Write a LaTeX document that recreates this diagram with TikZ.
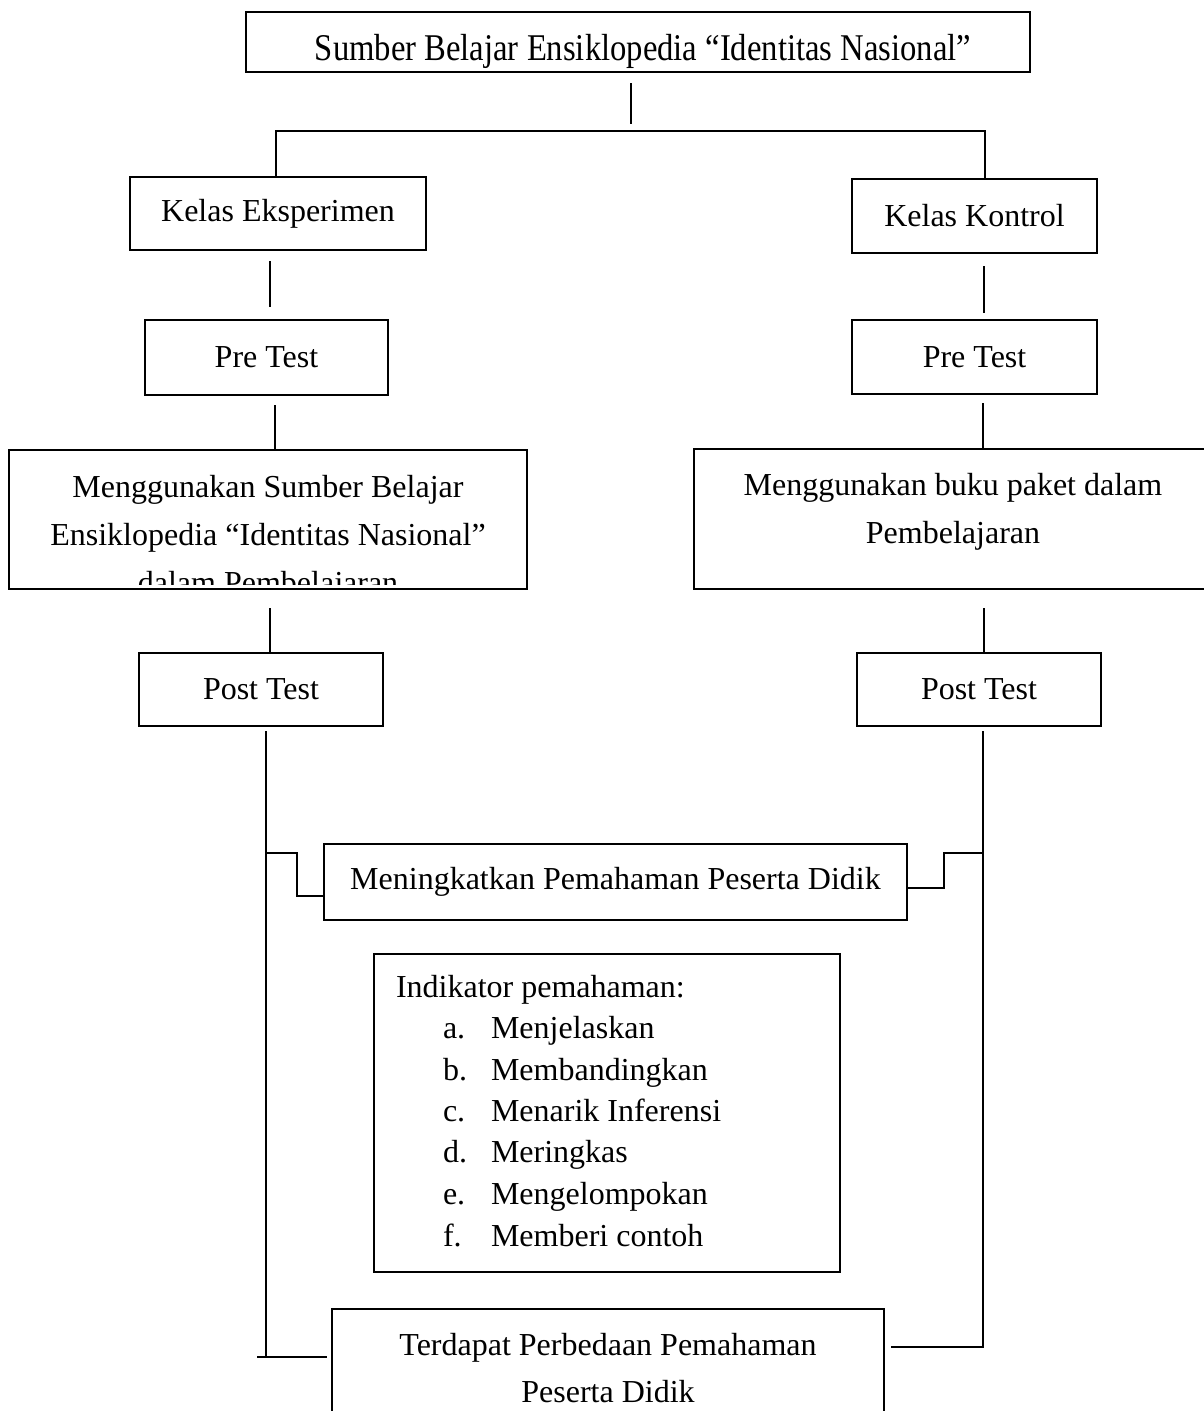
\documentclass[tikz,border=0pt]{standalone}
\usepackage{fontspec}
\setmainfont{Liberation Serif}
\begin{document}
\begin{tikzpicture}
[ x=0.375pt, y=-0.375pt, line width=0.75pt
, font=\fontsize{12pt}{14pt}\selectfont
, box/.style 2 args={rectangle, draw, line width=0.8pt, inner sep=0pt, minimum width=#1*0.375pt, minimum height=#2*0.375pt}
, txt/.style={anchor=base, inner sep=0pt}
, itemtxt/.style={anchor=base west, inner sep=0pt}
, point/.style={coordinate}
]
\useasboundingbox (0,0) rectangle (1204,1411);
% Boxes:
\node (top) [box={784}{60}] at (638,42) {};
\node (kelasE) [box={296}{73}] at (278,213.5) {Kelas Eksperimen};
\node (kelasK) [box={245}{74}] at (974.5,216) {Kelas Kontrol};
\node (preE) [box={243}{75}] at (266.5,357.5) {Pre Test};
\node (preK) [box={245}{74}] at (974.5,357) {Pre Test};
\node (gunaE) [box={518}{139}] at (268,519.5) {};
\node (gunaK) [box={518}{140}] at (953,519) {};
\node (postE) [box={244}{73}] at (261,689.5) {Post Test};
\node (postK) [box={244}{73}] at (979,689.5) {Post Test};
\node (tingkat) [box={583}{76}] at (615.5,882) {Meningkatkan Pemahaman Peserta Didik};
\node (indik) [box={466}{318}] at (607,1113) {};
\node (beda) [box={552}{132}] at (608,1375) {};
% Texts of the larger boxes:
\node (top1) [txt] at (643,60) {\scalebox{1.02}[1.18]{Sumber Belajar Ensiklopedia ``Identitas Nasional''}};
\node (gunaE1) [txt] at (268,497) {Menggunakan Sumber Belajar};
\node (gunaE2) [txt] at (268,545) {Ensiklopedia ``Identitas Nasional''};
\begin{scope}
\clip (gunaE.north west) rectangle (gunaE.east |- 0,584);
\node (gunaE3) [txt] at (268,593) {dalam Pembelajaran};
\end{scope}
\node (gunaK1) [txt] at (953,495) {Menggunakan buku paket dalam};
\node (gunaK2) [txt] at (953,543) {Pembelajaran};
\node (indik0) [itemtxt] at (395,997) {Indikator pemahaman:};
\node (la) [itemtxt] at (442,1038.3) {a.}; \node (ia) [itemtxt] at (490,1038.3) {Menjelaskan};
\node (lb) [itemtxt] at (442,1080) {b.}; \node (ib) [itemtxt] at (490,1080) {Membandingkan};
\node (lc) [itemtxt] at (442,1121.7) {c.}; \node (ic) [itemtxt] at (490,1121.7) {Menarik Inferensi};
\node (ld) [itemtxt] at (442,1162.7) {d.}; \node (id) [itemtxt] at (490,1162.7) {Meringkas};
\node (le) [itemtxt] at (442,1204.3) {e.}; \node (ie) [itemtxt] at (490,1204.3) {Mengelompokan};
\node (lf) [itemtxt] at (442,1246) {f.}; \node (if) [itemtxt] at (490,1246) {Memberi contoh};
\node (beda1) [txt] at (608,1355) {Terdapat Perbedaan Pemahaman};
\node (beda2) [txt] at (608,1402) {Peserta Didik};
% Free ends of the connectors:
\node (t1) [point] at (631,83) {};
\node (t2) [point] at (631,124) {};
\node (sL) [point] at (276,131) {};
\node (sR) [point] at (985,131) {};
\node (e1) [point] at (270,261) {};
\node (e2) [point] at (270,307) {};
\node (e3) [point] at (275,405) {};
\node (e4) [point] at (270,608) {};
\node (e5) [point] at (266,731) {};
\node (e6) [point] at (266,1357) {};
\node (e7) [point] at (257,1357) {};
\node (e8) [point] at (327,1357) {};
\node (e9) [point] at (266,853) {};
\node (e10) [point] at (297,896) {};
\node (r1) [point] at (984,266) {};
\node (r2) [point] at (984,313) {};
\node (r3) [point] at (983,403) {};
\node (r4) [point] at (984,608) {};
\node (r5) [point] at (983,731) {};
\node (r6) [point] at (983,1347) {};
\node (r7) [point] at (891,1347) {};
\node (r8) [point] at (983,853) {};
\node (r9) [point] at (944,888) {};
% Connectors:
\draw (t1) -- (t2);
\draw (kelasE.north -| sL) -- (sL) -- (sR) -- (kelasK.north -| sR);
\draw (e1) -- (e2);
\draw (r1) -- (r2);
\draw (e3) -- (gunaE.north -| e3);
\draw (r3) -- (gunaK.north -| r3);
\draw (e4) -- (postE.north -| e4);
\draw (r4) -- (postK.north -| r4);
\draw (e5) -- (e6);
\draw (e7) -- (e8);
\draw (e9) -| (e10) -- (tingkat.west |- e10);
\draw (r5) -- (r6) -- (r7);
\draw (tingkat.east |- r9) -- (r9) |- (r8);
\end{tikzpicture}
\end{document}
